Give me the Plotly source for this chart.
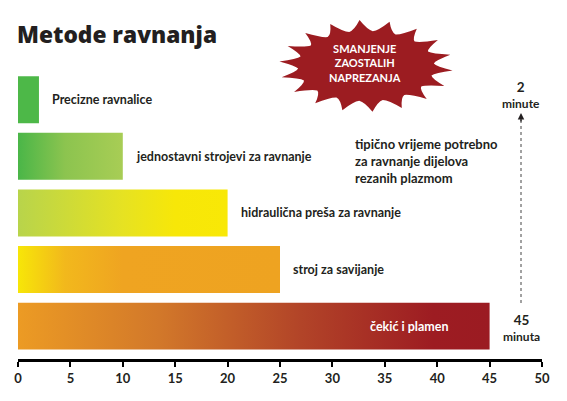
import math
import plotly.graph_objects as go

# ---- data ----
methods = ["Precizne ravnalice", "jednostavni strojevi za ravnanje",
           "hidraulična preša za ravnanje", "stroj za savijanje", "čekić i plamen"]
minutes = [2, 10, 20, 25, 45]
x_ticks = [0, 5, 10, 15, 20, 25, 30, 35, 40, 45, 50]

# ---- styles ----
gradients = [
    [[0, "#4db848"], [1, "#4db848"]],
    [[0, "#4ab648"], [0.45, "#8cc44f"], [1, "#a8cd55"]],
    [[0, "#b8d44b"], [0.5, "#e6e222"], [0.75, "#f7e708"], [1, "#f8e806"]],
    [[0, "#f7e608"], [0.18, "#f2b81c"], [0.4, "#efa421"], [1, "#eea321"]],
    [[0, "#ec9b24"], [0.3, "#d2782a"], [0.6, "#b24428"], [0.88, "#9d1c22"], [1, "#9b1b22"]],
]
DARK = "#231f20"
FONT = "Lato"
PAGE_OFF = 8          # default page body margin
W, H = 567 - PAGE_OFF, 401 - PAGE_OFF
PL, PR, PT, PB = 18, 542, 10, 359   # plot area in page pixels
L, T = PL - PAGE_OFF, PT - PAGE_OFF
R, B = 567 - PR, 401 - PB
BAR_W = 0.83


def xp(p):
    return (p - PL) / (PR - PL)


def yp(p):
    return (PB - p) / (PB - PT)


fig = go.Figure()

for i, (name, v) in enumerate(zip(methods, minutes)):
    y0, y1 = i - BAR_W / 2, i + BAR_W / 2
    fig.add_trace(go.Scatter(
        x=[0, v, v, 0, 0], y=[y0, y0, y1, y1, y0],
        mode="lines", fill="toself", line=dict(width=0, color="rgba(0,0,0,0)"),
        fillgradient=dict(type="horizontal", colorscale=gradients[i], start=0, stop=v),
        name=name, hoverinfo="text", text=f"{name}: {v} min", showlegend=False,
    ))
    inside = i == len(methods) - 1
    fig.add_annotation(
        x=v, y=i, xref="x", yref="y", text=name, showarrow=False,
        xanchor="right" if inside else "left", yanchor="middle",
        xshift=-40 if inside else 11,
        font=dict(family=FONT, size=12.5, color="white" if inside else DARK, weight="bold"),
    )

# starburst decoration (concave flanks)
cx, cy = 366, 66
n = 18
seg = []
for k in range(n):
    a_tip = 2 * math.pi * k / n + 0.1
    a_val = a_tip + math.pi / n
    tip = (cx + 87 * math.cos(a_tip), cy + 46 * math.sin(a_tip))
    val = (cx + 68 * math.cos(a_val), cy + 35 * math.sin(a_val))
    a_c1 = a_tip + math.pi / n * 0.55
    a_c2 = a_val + math.pi / n * 0.45
    c1 = (cx + 70 * math.cos(a_c1), cy + 36 * math.sin(a_c1))
    c2 = (cx + 70 * math.cos(a_c2), cy + 36 * math.sin(a_c2))
    nxt_a = a_tip + 2 * math.pi / n
    nxt = (cx + 87 * math.cos(nxt_a), cy + 46 * math.sin(nxt_a))
    if k == 0:
        seg.append(f"M {xp(tip[0]):.4f},{yp(tip[1]):.4f}")
    seg.append(f"Q {xp(c1[0]):.4f},{yp(c1[1]):.4f} {xp(val[0]):.4f},{yp(val[1]):.4f}")
    seg.append(f"Q {xp(c2[0]):.4f},{yp(c2[1]):.4f} {xp(nxt[0]):.4f},{yp(nxt[1]):.4f}")
path = " ".join(seg) + " Z"
fig.add_shape(type="path", path=path, xref="paper", yref="paper",
              fillcolor="#9c1c21", line=dict(width=0), layer="above")
fig.add_annotation(x=xp(365), y=yp(63), xref="paper", yref="paper", showarrow=False,
                   xanchor="center", yanchor="middle",
                   text="SMANJENJE<br>ZAOSTALIH<br>NAPREZANJA", align="center",
                   font=dict(family=FONT, size=11, color="white", weight="bold"))

# title
fig.add_annotation(x=xp(15), y=yp(35), xref="paper", yref="paper", showarrow=False,
                   xanchor="left", yanchor="middle", text="Metode ravnanja",
                   font=dict(family="Open Sans", size=22.7, color=DARK, weight=800))

# note text
fig.add_annotation(x=xp(353), y=yp(161), xref="paper", yref="paper", showarrow=False,
                   xanchor="left", yanchor="middle", align="left",
                   text="tipično vrijeme potrebno<br>za ravnanje dijelova<br>rezanih plazmom",
                   font=dict(family=FONT, size=13, color=DARK, weight="bold"))

# time scale arrow
fig.add_annotation(x=xp(521), y=yp(95), xref="paper", yref="paper", showarrow=False,
                   xanchor="center", yanchor="middle",
                   text="<span style='font-size:13.5px'>2</span><br>minute", align="center",
                   font=dict(family=FONT, size=12, color=DARK, weight="bold"))
fig.add_annotation(x=xp(521), y=yp(328), xref="paper", yref="paper", showarrow=False,
                   xanchor="center", yanchor="middle",
                   text="<span style='font-size:13.5px'>45</span><br>minuta", align="center",
                   font=dict(family=FONT, size=12, color=DARK, weight="bold"))
fig.add_shape(type="line", xref="paper", yref="paper", x0=xp(521), x1=xp(521),
              y0=yp(120), y1=yp(305), line=dict(color="#444", width=1, dash="dot"))
fig.add_annotation(x=xp(521), y=yp(113), xref="paper", yref="paper", text="",
                   showarrow=True, axref="pixel", ayref="pixel", ax=0, ay=10,
                   arrowhead=2, arrowsize=1, arrowwidth=1.3, arrowcolor=DARK)

fig.update_xaxes(range=[0, 50], tickvals=x_ticks, ticktext=[str(t) for t in x_ticks],
                 showgrid=False, zeroline=False, showline=True, linecolor="black",
                 linewidth=3, ticks="outside", ticklen=5, tickwidth=2, tickcolor="black",
                 tickfont=dict(family=FONT, size=13, color=DARK, weight="bold"),
                 fixedrange=True, automargin=False)
fig.update_yaxes(range=[4.581, -1.585], visible=False, showgrid=False, zeroline=False,
                 fixedrange=True, automargin=False)
fig.update_layout(width=W, height=H,
                  margin=dict(l=L, r=R, t=T, b=B, autoexpand=False),
                  plot_bgcolor="white", paper_bgcolor="white", showlegend=False)

fig.write_html("out.html")
